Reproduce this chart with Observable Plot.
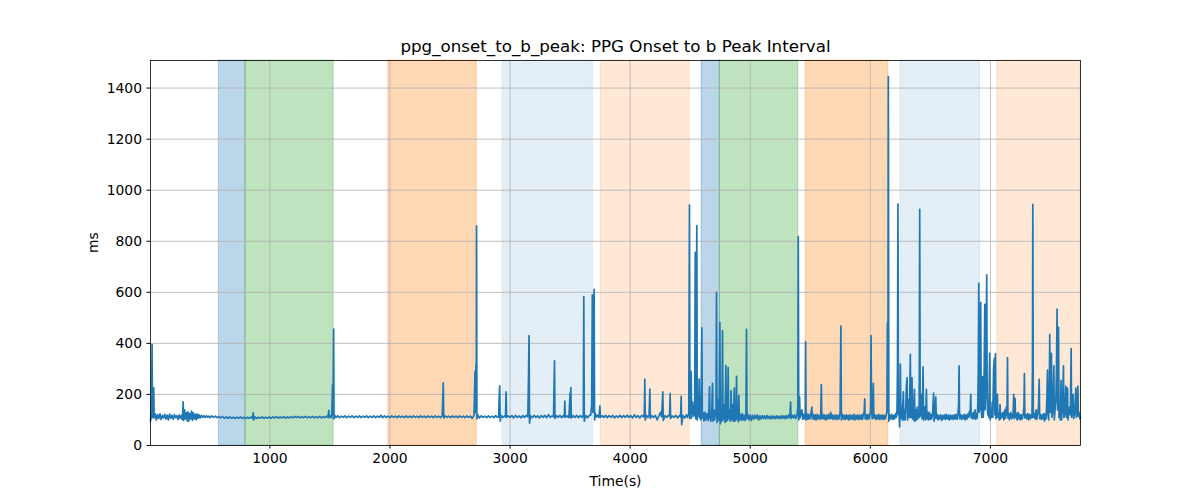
<!DOCTYPE html>
<html>
<head>
<meta charset="utf-8">
<script src="https://cdn.jsdelivr.net/npm/d3@7"></script>
<script src="https://cdn.jsdelivr.net/npm/@observablehq/plot@0.6"></script>
<style>
  html, body { margin: 0; padding: 0; background: white; }
  #chart { width: 1200px; height: 500px; }
</style>
</head>
<body>
<div id="chart"></div>
<script>
const titleText = "ppg_onset_to_b_peak: PPG Onset to b Peak Interval";
const xLabel = "Time(s)";
const yLabel = "ms";
const xTicks = [1000, 2000, 3000, 4000, 5000, 6000, 7000];
const yTicks = [0, 200, 400, 600, 800, 1000, 1200, 1400];

// shaded periods
const spanStart   = [575, 797, 1986, 2939, 3756, 4595, 4747, 5461, 6252, 7056];
const spanEnd     = [797, 1531, 2722, 3689, 4495, 4747, 5400, 6150, 6914, 7750];
const spanColor   = ["#1f77b4", "#2ca02c", "#ff7f0e", "#1f77b4", "#ff7f0e", "#1f77b4", "#2ca02c", "#ff7f0e", "#1f77b4", "#ff7f0e"];
const spanOpacity = [0.3, 0.3, 0.3, 0.12, 0.17, 0.3, 0.3, 0.3, 0.12, 0.17];

// [time (s), interval (ms)]
const part1 = [[6,95],[10,130],[14,105],[19,396],[22,110],[30,118],[33,227],[36,108],[45,124],[55,100],[65,121],[75,106],[85,124],[95,102],[105,118],[115,108],[125,122],[135,104],[145,119],[155,100],[165,123],[175,107],[185,118],[195,103],[205,121],[215,109],[225,117],[235,102],[245,120],[255,106],[265,118],[272,100],[278,171],[282,98],[290,140],[297,104],[305,128],[312,96],[318,132],[325,95],[332,125],[340,104],[348,135],[355,98],[362,128],[370,104],[378,122],[386,100],[394,124],[402,106],[410,120],[420,108],[430,118],[440,110],[450,117],[460,110],[470,116],[480,111],[490,115],[500,109],[515,116],[530,110],[545,115],[560,109],[575,114],[590,108],[605,113],[620,107],[635,112],[650,106],[665,112],[680,107],[695,111],[710,106],[725,111],[740,107],[755,112],[770,106],[785,111],[800,105],[815,111],[830,107],[845,112],[855,106],[861,128],[866,100],[875,112],[890,106],[905,111],[920,107],[935,112],[950,106],[965,111],[980,107]];
const part2 = [[995,112],[1010,107],[1025,112],[1040,108],[1055,113],[1070,107],[1085,112],[1100,108],[1115,113],[1130,107],[1145,112],[1160,108],[1175,113],[1190,108],[1205,114],[1220,109],[1235,114],[1250,108],[1265,113],[1280,109],[1295,114],[1310,108],[1325,113],[1340,109],[1355,114],[1370,108],[1385,113],[1400,109],[1415,114],[1430,108],[1445,113],[1460,109],[1475,115],[1485,110],[1491,138],[1495,110],[1505,116],[1515,108],[1522,240],[1526,120],[1531,456],[1534,104],[1540,118],[1550,110],[1565,116],[1580,109],[1595,115],[1610,110],[1625,116],[1640,109],[1655,115],[1670,110],[1685,116],[1700,109],[1715,115],[1730,110],[1745,116],[1760,109],[1775,115],[1790,110],[1805,116],[1820,109],[1835,115],[1850,110],[1865,116],[1880,109],[1895,115],[1910,110],[1925,118],[1940,109],[1955,116],[1970,110],[1985,115],[2000,109],[2015,116],[2030,110],[2045,115],[2060,109],[2075,116],[2090,110],[2105,115],[2120,109],[2135,116],[2150,110],[2165,115],[2180,109],[2195,116],[2210,110],[2225,115],[2240,109],[2255,116],[2270,110],[2285,115],[2300,109],[2315,116],[2330,110],[2345,115],[2360,109],[2375,116],[2390,110],[2405,115],[2420,109],[2435,116],[2444,245],[2448,108],[2460,116],[2475,110],[2490,115],[2505,109],[2520,116],[2535,110],[2550,115],[2565,109],[2580,116],[2595,110],[2610,115],[2625,109],[2640,116],[2655,110],[2670,115],[2685,106],[2700,118],[2708,290],[2712,130],[2716,320],[2719,140],[2721,860],[2724,105],[2732,120],[2745,108],[2760,116],[2775,110],[2790,115],[2805,109],[2820,116],[2835,110],[2850,115],[2865,109],[2880,117],[2895,110],[2905,112],[2910,197],[2914,234],[2918,95],[2925,118],[2940,110],[2955,116],[2962,112],[2967,210],[2971,110],[2985,116]];
const part3 = [[3000,110],[3015,117],[3030,108],[3045,118],[3060,110],[3075,116],[3090,108],[3105,117],[3120,110],[3135,118],[3148,112],[3154,280],[3158,430],[3162,88],[3170,116],[3185,109],[3200,118],[3215,110],[3230,116],[3245,108],[3260,117],[3275,110],[3290,118],[3305,109],[3320,121],[3335,110],[3350,116],[3362,112],[3370,332],[3374,106],[3385,117],[3400,110],[3415,118],[3430,109],[3445,117],[3452,112],[3456,174],[3460,110],[3475,116],[3490,109],[3500,205],[3503,112],[3506,227],[3510,108],[3525,117],[3540,110],[3555,118],[3570,109],[3585,117],[3600,110],[3610,118],[3614,583],[3618,95],[3630,117],[3645,109],[3660,118],[3672,120],[3680,160],[3685,590],[3690,130],[3695,140],[3700,612],[3704,100],[3712,125],[3720,112],[3732,118],[3740,110],[3748,155],[3752,110],[3765,117],[3780,110],[3795,118],[3810,109],[3825,117],[3840,110],[3855,118],[3870,108],[3885,116],[3900,110],[3915,118],[3930,109],[3945,117],[3960,110],[3975,119],[3990,110],[4005,117],[4020,108],[4035,120],[4050,110],[4065,117],[4080,108],[4095,118],[4110,112],[4118,125],[4122,260],[4126,100],[4135,118],[4148,110],[4158,120],[4164,221],[4168,106],[4180,117],[4195,110],[4210,118],[4225,100],[4240,116],[4252,130],[4262,112],[4272,210],[4276,98],[4290,117],[4305,110],[4318,118],[4328,115],[4333,204],[4337,106],[4350,116],[4365,110],[4380,118],[4395,108],[4410,118],[4420,112],[4425,193],[4429,82],[4440,118],[4455,108],[4468,120],[4478,110],[4488,125],[4494,942],[4498,105],[4504,130],[4508,290],[4512,108],[4520,170],[4530,115],[4537,140],[4542,757],[4546,105],[4550,130],[4555,861],[4559,100],[4565,180],[4570,115],[4575,260],[4580,108],[4586,125],[4590,100],[4597,461],[4601,108]];
const part4 = [[4608,128],[4615,96],[4622,130],[4630,100],[4640,125],[4650,98],[4656,140],[4661,230],[4665,110],[4672,95],[4680,140],[4686,243],[4690,95],[4696,140],[4702,100],[4710,125],[4715,150],[4719,600],[4723,90],[4728,120],[4735,180],[4740,98],[4747,482],[4751,85],[4756,130],[4760,150],[4764,95],[4769,450],[4773,100],[4779,135],[4785,160],[4790,90],[4797,313],[4801,95],[4806,140],[4811,98],[4816,305],[4820,105],[4826,130],[4830,140],[4835,95],[4840,215],[4845,100],[4850,125],[4855,160],[4860,95],[4867,225],[4871,95],[4877,130],[4881,100],[4886,271],[4890,105],[4896,125],[4900,92],[4905,195],[4910,100],[4918,122],[4926,98],[4934,125],[4942,100],[4950,118],[4958,98],[4964,120],[4969,455],[4973,105],[4980,122],[4990,100],[5000,120],[5010,98],[5020,118],[5030,104],[5040,118],[5050,106],[5060,120],[5070,100],[5080,116],[5090,104],[5100,117],[5110,106],[5120,116],[5130,104],[5140,117],[5150,106],[5160,115],[5170,104],[5180,116],[5190,106],[5200,115],[5210,105],[5220,116],[5230,106],[5240,115],[5250,105],[5260,117],[5270,106],[5280,116],[5290,105],[5300,117],[5310,106],[5320,120],[5330,110],[5336,170],[5340,106],[5350,118],[5360,108],[5370,120],[5380,106],[5390,118],[5396,150],[5400,818],[5404,100],[5411,190],[5415,108],[5422,125],[5430,140],[5437,102],[5445,122],[5452,104],[5458,120],[5461,406],[5465,100]];
const part5 = [[5472,125],[5480,102],[5488,122],[5496,104],[5504,120],[5513,150],[5517,104],[5525,122],[5533,102],[5541,120],[5549,100],[5557,122],[5565,104],[5573,118],[5581,103],[5587,125],[5592,239],[5596,105],[5604,122],[5612,104],[5620,120],[5628,100],[5636,118],[5644,104],[5652,122],[5660,104],[5670,130],[5675,106],[5683,120],[5691,102],[5699,118],[5707,104],[5715,120],[5723,102],[5731,118],[5739,104],[5748,130],[5755,468],[5759,100],[5767,122],[5775,104],[5783,118],[5791,102],[5799,120],[5807,104],[5815,118],[5823,100],[5831,120],[5839,104],[5847,118],[5855,102],[5863,122],[5871,100],[5879,118],[5887,104],[5895,120],[5903,102],[5911,118],[5919,104],[5927,120],[5935,102],[5943,125],[5949,130],[5953,183],[5957,104],[5965,120],[5973,102],[5981,122],[5990,104],[5998,125],[6002,140],[6006,430],[6010,140],[6016,104],[6020,130],[6025,243],[6029,108],[6037,120],[6045,102],[6053,118],[6061,104],[6069,122],[6077,102],[6085,118],[6093,104],[6101,120],[6109,102],[6117,118],[6125,104],[6133,122],[6138,130],[6142,481],[6146,130],[6150,1445],[6154,95],[6162,120],[6170,104],[6178,122],[6186,102],[6194,118],[6202,104],[6210,125],[6216,110],[6222,140],[6226,300],[6230,946],[6234,120],[6238,135],[6244,73],[6247,140],[6250,319],[6254,108],[6260,150],[6265,100],[6270,160],[6275,210],[6279,100],[6285,140],[6290,100],[6295,150],[6300,230],[6306,265],[6310,100],[6315,130],[6320,180],[6325,110],[6328,190],[6333,357],[6337,110],[6342,130],[6347,265],[6351,105],[6356,140],[6360,100],[6364,180],[6367,220],[6371,95],[6377,140],[6383,100]];
const part6 = [[6390,150],[6395,104],[6400,125],[6406,110],[6408,300],[6411,925],[6415,115],[6420,140],[6425,200],[6430,105],[6434,150],[6439,308],[6443,100],[6450,130],[6455,150],[6460,100],[6467,220],[6471,105],[6478,130],[6484,100],[6490,130],[6497,102],[6504,122],[6510,104],[6518,120],[6527,205],[6531,95],[6538,120],[6545,190],[6549,106],[6556,122],[6563,100],[6570,118],[6578,104],[6586,120],[6594,98],[6602,118],[6610,104],[6618,120],[6626,102],[6634,122],[6642,104],[6650,118],[6658,100],[6666,120],[6674,104],[6682,118],[6690,102],[6698,120],[6706,104],[6714,122],[6722,102],[6730,125],[6735,160],[6739,312],[6743,105],[6750,122],[6758,102],[6766,118],[6774,104],[6782,122],[6790,100],[6798,120],[6806,104],[6814,125],[6820,110],[6826,135],[6831,120],[6836,200],[6840,108],[6847,125],[6853,104],[6860,130],[6866,106],[6872,140],[6878,102],[6884,125],[6890,108],[6895,160],[6899,300],[6903,635],[6907,130],[6912,250],[6915,140],[6919,561],[6923,150],[6928,110],[6932,200],[6936,270],[6940,110],[6945,160],[6949,350],[6953,553],[6957,140],[6961,250],[6965,420],[6969,668],[6973,200],[6978,120],[6983,150],[6988,110],[6990,240],[6994,361],[6998,100],[7004,130],[7009,110],[7015,170],[7020,110],[7026,300],[7033,341],[7037,120],[7042,360],[7046,105],[7052,130],[7058,200],[7062,110],[7068,125],[7074,100],[7080,160],[7085,104],[7092,125],[7100,110],[7106,130],[7112,100],[7120,140],[7126,106],[7132,150],[7138,120],[7142,344],[7146,108],[7152,125],[7158,100],[7164,122],[7170,130],[7176,104],[7182,120],[7188,110],[7194,200],[7198,105],[7205,185],[7209,110],[7216,125],[7222,100],[7230,130],[7237,104],[7244,122],[7250,100],[7258,120],[7266,104],[7274,125],[7279,150],[7283,282],[7287,108],[7294,122],[7302,104],[7310,125],[7318,100],[7326,122],[7333,104],[7340,120],[7346,110],[7350,300],[7353,945],[7357,110],[7364,125],[7372,104],[7380,140],[7386,102],[7394,125],[7400,150],[7406,259],[7410,105],[7416,122],[7423,102],[7430,120],[7437,104],[7444,125],[7450,95],[7456,122],[7463,104],[7470,180],[7475,295],[7479,120],[7485,100],[7490,200],[7494,435],[7498,130],[7503,200],[7508,361],[7512,110],[7518,130],[7523,200],[7528,312],[7532,100],[7538,140],[7545,180],[7550,300],[7555,534],[7559,140],[7563,350],[7567,463],[7571,110],[7577,150],[7582,100],[7588,255],[7592,100],[7598,140],[7603,200],[7608,312],[7612,110],[7618,125],[7622,150],[7628,233],[7632,110],[7637,160],[7642,225],[7646,100],[7652,130],[7660,150],[7666,120],[7672,380],[7676,110],[7682,130],[7689,200],[7693,105],[7700,125],[7706,160],[7711,225],[7715,110],[7721,130],[7728,233],[7732,115],[7738,130],[7744,104],[7750,110]];

const series = [...part1, ...part2, ...part3, ...part4, ...part5, ...part6].map(([t, v]) => ({t, v}));
const spans = spanStart.map((s, i) => ({start: s, end: spanEnd[i], color: spanColor[i], opacity: spanOpacity[i]}));

const font = "DejaVu Sans, sans-serif";
const chart = Plot.plot({
  width: 1200,
  height: 500,
  marginLeft: 150,
  marginRight: 120,
  marginTop: 60,
  marginBottom: 55,
  style: {fontFamily: font, fontSize: "13.9px", background: "white", color: "black", overflow: "visible"},
  x: {domain: [6, 7750]},
  y: {domain: [0, 1508]},
  marks: [
    Plot.rect(spans, {x1: "start", x2: "end", fill: "color", fillOpacity: "opacity", stroke: "color", strokeOpacity: "opacity", strokeWidth: 1}),
    Plot.gridX(xTicks, {stroke: "#b0b0b0", strokeOpacity: 1, strokeWidth: 0.8}),
    Plot.gridY(yTicks, {stroke: "#b0b0b0", strokeOpacity: 1, strokeWidth: 0.8}),
    Plot.line(series, {x: "t", y: "v", stroke: "#1f77b4", strokeWidth: 1.7}),
    Plot.frame({stroke: "black", strokeWidth: 0.8}),
    Plot.axisX({ticks: xTicks, tickFormat: "d", tickSize: 3.5, tickPadding: 4, fontSize: 13.9, label: null}),
    Plot.axisY({ticks: yTicks, tickFormat: "d", tickSize: 3.5, tickPadding: 5, fontSize: 13.9, label: null}),
    Plot.text([xLabel], {frameAnchor: "bottom", lineAnchor: "middle", dy: 36, text: d => d, fontSize: 13.9, fill: "black"}),
    Plot.text([yLabel], {frameAnchor: "left", lineAnchor: "middle", dx: -57, rotate: -90, text: d => d, fontSize: 13.9, fill: "black"}),
    Plot.text([titleText], {frameAnchor: "top", lineAnchor: "middle", dy: -14, text: d => d, fontSize: 16.7, fill: "black"})
  ]
});
document.getElementById("chart").appendChild(chart);
</script>
</body>
</html>
